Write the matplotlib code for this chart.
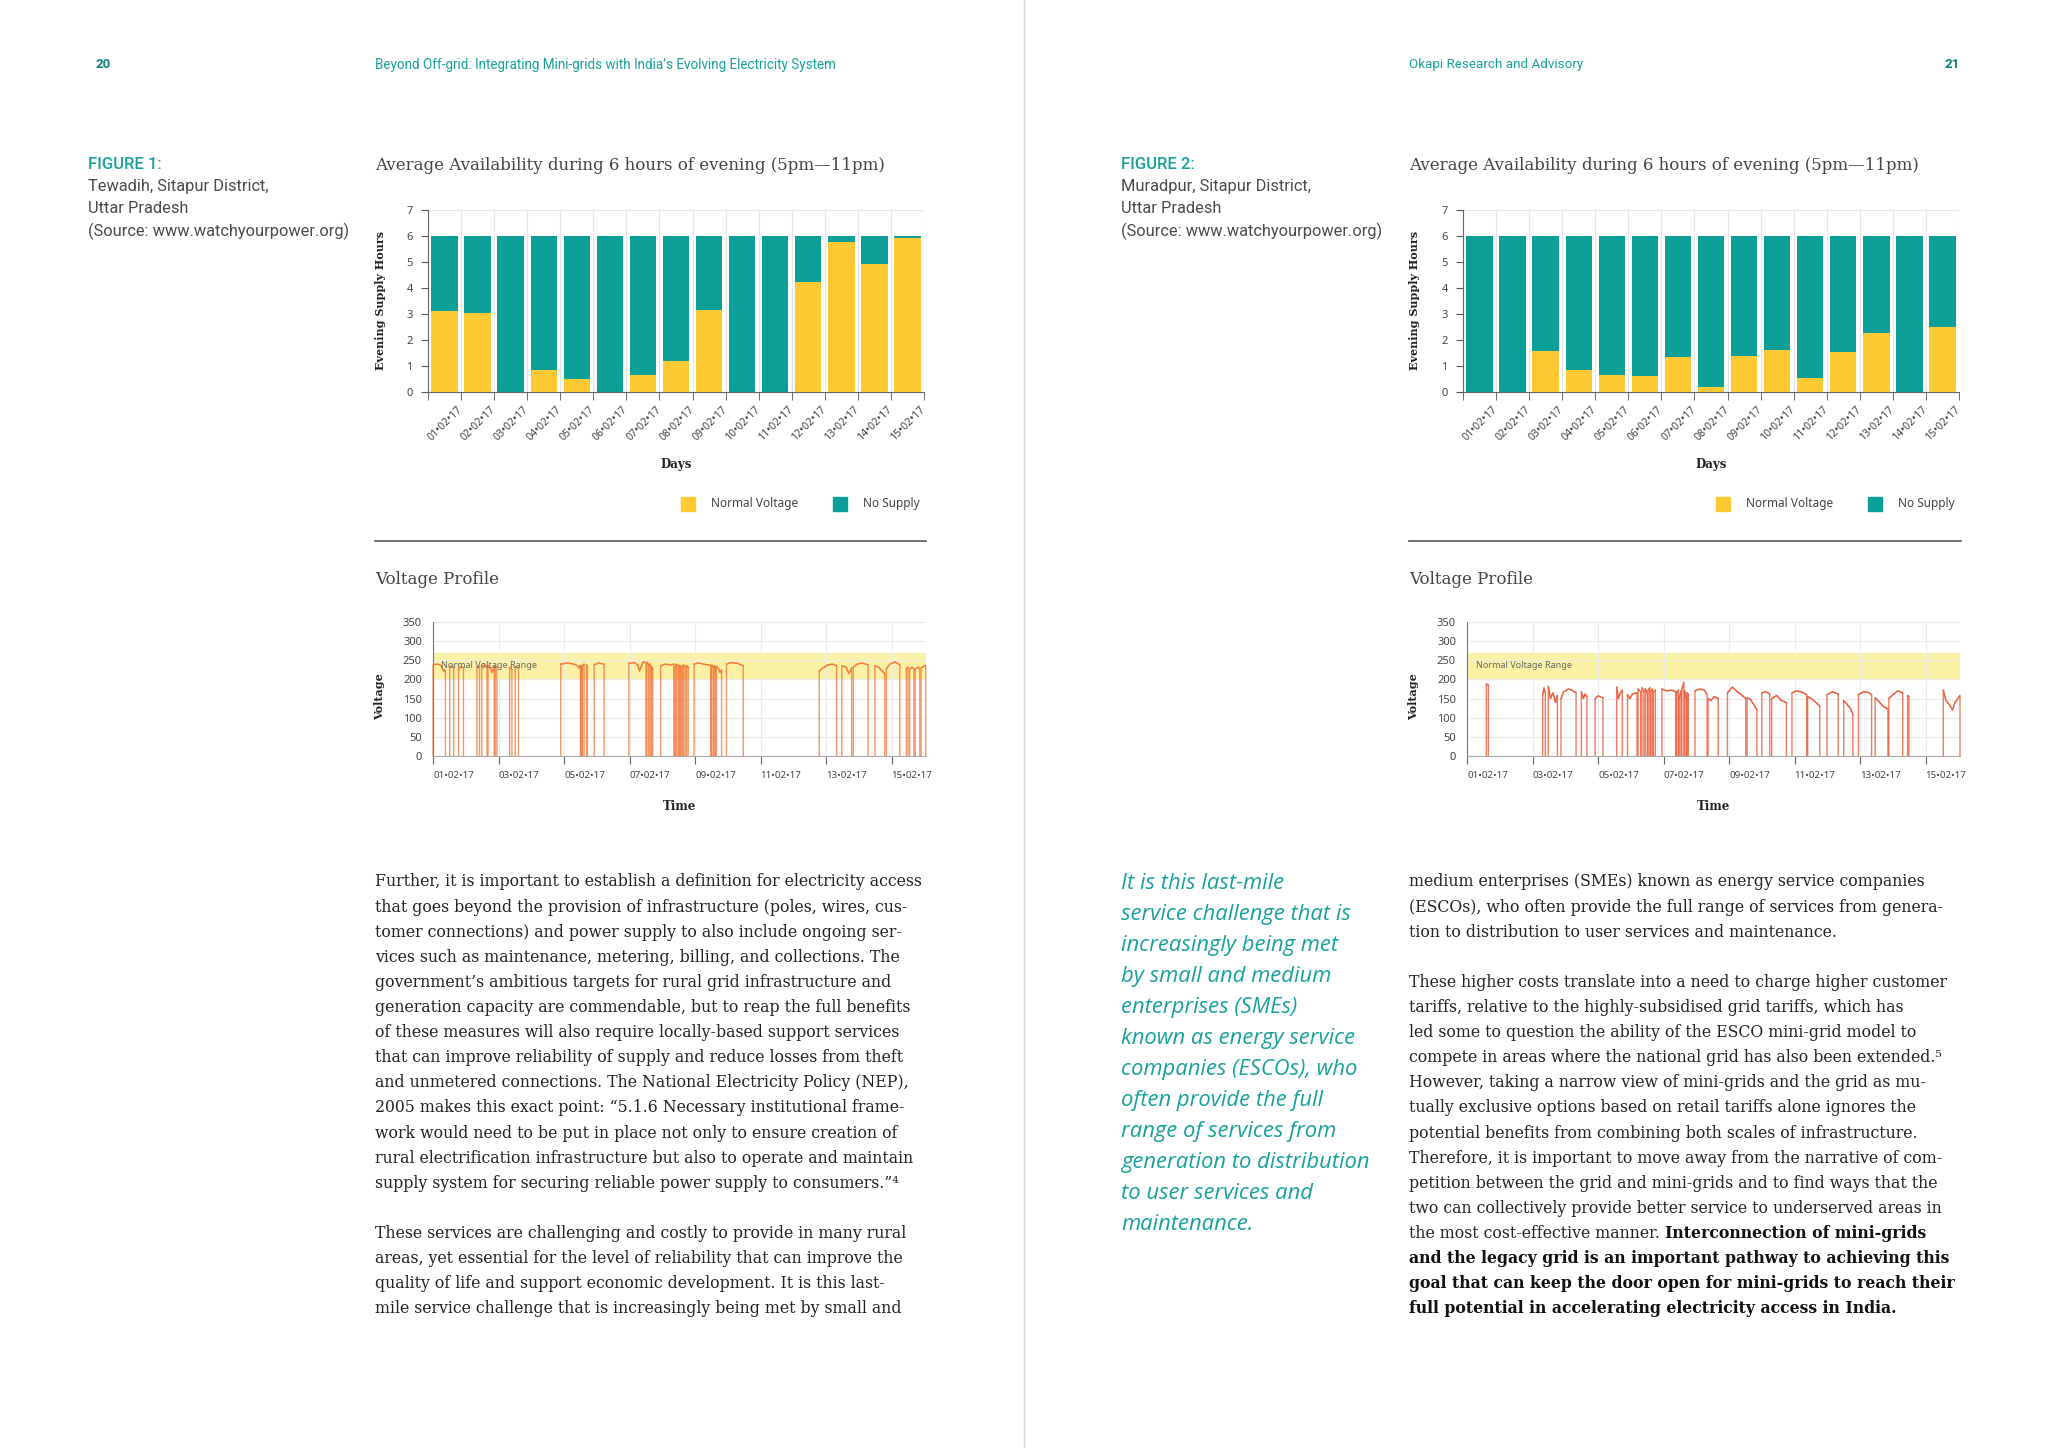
import numpy as np
import matplotlib
matplotlib.use('Agg')
from matplotlib import pyplot as plt
from matplotlib.patches import Rectangle

day_labels = ['01•02•17', '02•02•17', '03•02•17', '04•02•17', '05•02•17',
              '06•02•17', '07•02•17', '08•02•17', '09•02•17', '10•02•17',
              '11•02•17', '12•02•17', '13•02•17', '14•02•17', '15•02•17']

# evening supply hours (out of 6) at normal voltage
tewadih_normal = [3.12, 3.04, 0.0, 0.86, 0.49, 0.0, 0.67, 1.2, 3.15, 0.0,
                  0.0, 4.22, 5.77, 4.92, 5.91]
muradpur_normal = [0.0, 0.0, 1.58, 0.86, 0.67, 0.6, 1.35, 0.2, 1.37, 1.6,
                   0.55, 1.54, 2.27, 0.0, 2.51]
evening_hours = 6

# voltage profile: supply runs as (day, volt) points, 0 V between runs
tewadih_runs = [
    [(0.00, 238), (0.15, 240), (0.25, 236), (0.32, 222), (0.36, 225), (0.38, 218)],
    [(0.51, 232), (0.58, 236), (0.63, 230)],
    [(0.78, 226), (0.84, 233), (0.93, 231)],
    [(1.34, 232), (1.42, 234)],
    [(1.49, 235), (1.56, 237), (1.65, 233)],
    [(1.68, 236), (1.76, 228), (1.80, 218), (1.87, 232)],
    [(1.90, 234), (1.95, 232)],
    [(2.34, 231), (2.41, 226)],
    [(2.51, 233), (2.61, 230)],
    [(3.90, 240), (4.10, 243), (4.30, 240), (4.40, 236), (4.46, 230), (4.50, 236)],
    [(4.52, 234), (4.54, 228)],
    [(4.56, 236), (4.61, 240)],
    [(4.68, 238), (4.70, 238)],
    [(4.92, 238), (5.05, 243), (5.22, 240)],
    [(5.98, 242), (6.15, 244), (6.25, 238), (6.30, 222), (6.35, 232), (6.42, 246), (6.50, 243)],
    [(6.53, 245), (6.58, 238)],
    [(6.62, 240), (6.66, 230)],
    [(6.69, 232), (6.71, 226)],
    [(6.95, 236), (7.10, 240), (7.25, 238), (7.35, 240)],
    [(7.38, 232), (7.42, 240)],
    [(7.45, 236), (7.50, 238)],
    [(7.52, 235), (7.55, 230)],
    [(7.58, 236), (7.62, 232)],
    [(7.65, 238), (7.70, 233)],
    [(7.74, 236), (7.79, 232)],
    [(7.97, 240), (8.10, 243), (8.25, 240), (8.40, 238), (8.48, 236)],
    [(8.50, 238), (8.55, 232)],
    [(8.58, 236), (8.62, 230)],
    [(8.65, 234), (8.72, 228), (8.76, 218), (8.81, 225)],
    [(8.96, 240), (9.10, 244), (9.30, 242), (9.40, 238), (9.47, 236)],
    [(11.79, 222), (11.90, 230), (12.05, 238), (12.20, 240), (12.32, 236)],
    [(12.48, 235), (12.60, 233), (12.70, 215), (12.78, 230)],
    [(12.83, 232), (12.95, 240), (13.10, 243), (13.28, 238)],
    [(13.49, 236), (13.60, 232), (13.72, 222), (13.79, 215)],
    [(13.84, 228), (13.95, 240), (14.10, 246), (14.25, 238)],
    [(14.45, 228), (14.50, 232)],
    [(14.55, 226), (14.62, 232), (14.68, 228)],
    [(14.72, 226), (14.80, 232), (14.86, 228)],
    [(14.90, 230), (14.97, 234), (15.04, 236)],
]

muradpur_runs = [
    [(0.59, 188), (0.65, 186)],
    [(2.31, 160), (2.35, 178), (2.39, 165)],
    [(2.48, 182), (2.55, 150), (2.62, 165), (2.70, 140), (2.76, 158)],
    [(2.87, 150), (2.95, 168), (3.10, 175), (3.20, 172), (3.33, 165)],
    [(3.49, 168), (3.55, 150), (3.60, 162), (3.66, 155)],
    [(3.91, 150), (4.00, 157), (4.15, 152)],
    [(4.57, 180), (4.62, 150), (4.68, 165), (4.74, 172)],
    [(4.90, 160), (4.97, 150), (5.05, 162), (5.19, 165)],
    [(5.22, 175), (5.30, 168)],
    [(5.34, 178), (5.40, 170)],
    [(5.44, 176), (5.50, 165)],
    [(5.53, 172), (5.58, 178)],
    [(5.61, 170), (5.66, 175)],
    [(5.69, 168), (5.75, 172)],
    [(5.95, 175), (6.10, 170), (6.25, 172), (6.37, 168)],
    [(6.40, 165), (6.45, 172)],
    [(6.48, 150), (6.53, 170)],
    [(6.56, 175), (6.62, 192)],
    [(6.65, 170), (6.70, 150)],
    [(6.72, 165), (6.76, 160)],
    [(6.96, 170), (7.10, 175), (7.25, 172), (7.33, 160)],
    [(7.36, 150), (7.45, 145), (7.55, 155), (7.67, 150)],
    [(7.95, 165), (8.10, 180), (8.25, 168), (8.40, 158), (8.51, 150)],
    [(8.55, 152), (8.65, 148), (8.75, 135), (8.85, 120)],
    [(9.00, 165), (9.12, 168), (9.24, 162)],
    [(9.30, 150), (9.45, 158), (9.60, 145), (9.75, 140)],
    [(9.92, 165), (10.05, 170), (10.20, 168), (10.37, 160)],
    [(10.40, 155), (10.55, 148), (10.65, 140), (10.77, 130)],
    [(10.99, 160), (11.15, 168), (11.33, 162)],
    [(11.50, 145), (11.60, 135), (11.70, 125), (11.78, 110)],
    [(11.95, 160), (12.10, 168), (12.25, 166), (12.35, 160)],
    [(12.46, 152), (12.60, 140), (12.70, 130), (12.85, 122)],
    [(12.88, 150), (13.00, 160), (13.15, 170), (13.30, 165)],
    [(13.45, 158), (13.49, 155)],
    [(14.54, 172), (14.62, 145), (14.72, 135), (14.82, 120), (14.90, 140), (15.05, 158)],
]
normal_range = (200, 270)

left_body = [
    "Further, it is important to establish a definition for electricity access",
    "that goes beyond the provision of infrastructure (poles, wires, cus-",
    "tomer connections) and power supply to also include ongoing ser-",
    "vices such as maintenance, metering, billing, and collections. The",
    "government’s ambitious targets for rural grid infrastructure and",
    "generation capacity are commendable, but to reap the full benefits",
    "of these measures will also require locally-based support services",
    "that can improve reliability of supply and reduce losses from theft",
    "and unmetered connections. The National Electricity Policy (NEP),",
    "2005 makes this exact point: “5.1.6 Necessary institutional frame-",
    "work would need to be put in place not only to ensure creation of",
    "rural electrification infrastructure but also to operate and maintain",
    "supply system for securing reliable power supply to consumers.”⁴",
    "",
    "These services are challenging and costly to provide in many rural",
    "areas, yet essential for the level of reliability that can improve the",
    "quality of life and support economic development. It is this last-",
    "mile service challenge that is increasingly being met by small and",
]
right_body = [
    "medium enterprises (SMEs) known as energy service companies",
    "(ESCOs), who often provide the full range of services from genera-",
    "tion to distribution to user services and maintenance.",
    "",
    "These higher costs translate into a need to charge higher customer",
    "tariffs, relative to the highly-subsidised grid tariffs, which has",
    "led some to question the ability of the ESCO mini-grid model to",
    "compete in areas where the national grid has also been extended.⁵",
    "However, taking a narrow view of mini-grids and the grid as mu-",
    "tually exclusive options based on retail tariffs alone ignores the",
    "potential benefits from combining both scales of infrastructure.",
    "Therefore, it is important to move away from the narrative of com-",
    "petition between the grid and mini-grids and to find ways that the",
    "two can collectively provide better service to underserved areas in",
    "the most cost-effective manner. ",
]
right_bold = [
    "Interconnection of mini-grids",
    "and the legacy grid is an important pathway to achieving this",
    "goal that can keep the door open for mini-grids to reach their",
    "full potential in accelerating electricity access in India.",
]
pull_quote = [
    "It is this last-mile", "service challenge that is", "increasingly being met",
    "by small and medium", "enterprises (SMEs)", "known as energy service",
    "companies (ESCOs), who", "often provide the full", "range of services from",
    "generation to distribution", "to user services and", "maintenance.",
]

TEAL = '#0c9e99'
TEAL_TXT = '#17a19c'
YELLOW = '#fdca33'
GREY = '#444444'
SERIF = 'DejaVu Serif'
SANS = 'Noto Sans'

W, H = 2048, 1448
fig = plt.figure(figsize=(W / 100, H / 100), dpi=100)


def fx(x):
    return x / W


def fy(y):
    return 1 - y / H


def ptext(x, y, s, **kw):
    kw.setdefault('va', 'center_baseline')
    return fig.text(fx(x), fy(y), s, **kw)


def add_axes_px(x0, y0, x1, y1):
    return fig.add_axes([fx(x0), fy(y1), (x1 - x0) / W, (y1 - y0) / H])


def bar_chart(x0, x1, normal):
    ax = add_axes_px(x0, 210, x1, 392)
    pos = np.arange(len(day_labels))
    no_supply = [evening_hours - v for v in normal]
    ax.bar(pos, normal, width=0.8, color=YELLOW, zorder=3)
    ax.bar(pos, no_supply, bottom=normal, width=0.8, color=TEAL, zorder=3)
    ax.set_xlim(-0.5, len(day_labels) - 0.5)
    ax.set_ylim(0, 7)
    ax.set_yticks(range(8))
    # rotated day labels end just right of each bar centre
    ax.set_xticks(pos + 0.38)
    ax.set_xticklabels(day_labels, rotation=45, ha='right', rotation_mode='anchor',
                       fontsize=7.6, color=GREY, family=SANS)
    ax.set_xticks(np.arange(-0.5, len(day_labels), 1), minor=True)
    ax.tick_params(axis='x', which='major', length=0, pad=9)
    ax.tick_params(axis='x', which='minor', length=6, color='#555555')
    ax.tick_params(axis='y', length=5, color='#555555', labelsize=8, labelcolor=GREY, pad=6)
    for lab in ax.get_yticklabels():
        lab.set_family(SANS)
    ax.grid(axis='x', which='minor', color='#e6e6e6', lw=0.8, zorder=0)
    ax.axhline(7, color='#e6e6e6', lw=1, zorder=0)
    for s in ['top', 'right']:
        ax.spines[s].set_visible(False)
    for s in ['left', 'bottom']:
        ax.spines[s].set_color('#666666')
    return ax


def voltage_chart(x0, x1, runs, color, label_day):
    ax = add_axes_px(x0, 622, x1, 756)
    # each supply run drawn on its own, rising from and falling back to 0 V
    for run in runs:
        t = [run[0][0]] + [d for d, _ in run] + [run[-1][0]]
        v = [0] + [volt for _, volt in run] + [0]
        ax.plot(t, v, color=color, lw=1.0, alpha=0.7, zorder=3, clip_on=False)
        ax.plot([d for d, _ in run], [volt for _, volt in run], color=color, lw=1.1,
                alpha=0.5, zorder=3)
    ax.axhspan(normal_range[0], normal_range[1], color='#fbf1a4', zorder=1)
    ax.text(label_day, 236, 'Normal Voltage Range', fontsize=6.5, color='#666666',
            va='center', family=SANS, zorder=4)
    ax.set_xlim(0, 15.05)
    ax.set_ylim(0, 350)
    ax.set_yticks(range(0, 351, 50))
    ax.set_xticks(range(0, 15, 2))
    ax.set_xticklabels(day_labels[::2], ha='left', fontsize=7, color=GREY, family=SANS)
    ax.tick_params(axis='x', length=6, color='#666666', pad=5)
    ax.tick_params(axis='y', length=0, labelsize=8, labelcolor=GREY, pad=8)
    for lab in ax.get_yticklabels():
        lab.set_family(SANS)
    ax.grid(color='#ececec', lw=0.8, zorder=0)
    for s in ['top', 'right']:
        ax.spines[s].set_visible(False)
    ax.spines['left'].set_color('#777777')
    ax.spines['bottom'].set_color('#aaaaaa')
    ax.spines['bottom'].set_zorder(4)
    return ax


def legend(x0, x_text1, x_sq2, x_text2, y):
    for xs, col in [(x0, YELLOW), (x_sq2, TEAL)]:
        fig.add_artist(Rectangle((fx(xs), fy(y + 7)), 14 / W, 14 / H, color=col,
                                 transform=fig.transFigure))
    ptext(x_text1, y, 'Normal Voltage', fontsize=8.5, color=GREY, family=SANS, va='center')
    ptext(x_text2, y, 'No Supply', fontsize=8.5, color=GREY, family=SANS, va='center')


# page divider
fig.add_artist(plt.Line2D([fx(1024), fx(1024)], [0, 1], color='#d8d8d8', lw=1,
                          transform=fig.transFigure))

# headers
ptext(95, 63, '20', fontsize=9.5, color='#0b7f7b', weight='bold', family='Roboto')
ptext(375, 63, 'Beyond Off-grid: Integrating Mini-grids with India’s Evolving Electricity System',
      fontsize=9.75, color=TEAL_TXT, family='Roboto')
ptext(1409, 63, 'Okapi Research and Advisory', fontsize=9.7, color=TEAL_TXT, family='Roboto')
ptext(1960, 63, '21', fontsize=9.5, color='#0b7f7b', weight='bold', family='Roboto', ha='right')

# figure captions
for x0, num, place in [(88, '1', 'Tewadih'), (1121, '2', 'Muradpur')]:
    ptext(x0, 163, f'FIGURE {num}:', fontsize=12, color=TEAL_TXT, family='Roboto', weight='medium')
    ptext(x0, 185, f'{place}, Sitapur District,', fontsize=11.8, color='#4a4a4a', family='Roboto')
    ptext(x0, 207, 'Uttar Pradesh', fontsize=11.8, color='#4a4a4a', family='Roboto')
    ptext(x0, 229, '(Source: www.watchyourpower.org)', fontsize=11.8, color='#4a4a4a',
          family='Roboto')

# two figure blocks
blocks = [(375, 428, 924, 433, 926, tewadih_normal, tewadih_runs, '#f06a28', 0.24),
          (1409, 1463, 1959, 1467, 1960, muradpur_normal, muradpur_runs, '#e8441e', 0.29)]
for tx, bx0, bx1, vx0, vx1, normal, runs, vcol, lab_day in blocks:
    ptext(tx, 163, 'Average Availability during 6 hours of evening (5pm—11pm)',
          fontsize=12, color=GREY, family=SERIF)
    bar_chart(bx0, bx1, normal)
    ptext(tx + 5, 300, 'Evening Supply Hours', fontsize=8, color='#222222', family=SERIF,
          weight='bold', rotation=90, ha='center', va='center')
    ptext((bx0 + bx1) / 2, 464, 'Days', fontsize=8.5, color='#222222', family=SERIF,
          weight='bold', ha='center', va='center')
    legend(bx1 - 243, bx1 - 213, bx1 - 91, bx1 - 61, 504)
    fig.add_artist(plt.Line2D([fx(tx), fx(bx1 + 2)], [fy(541), fy(541)], color='#555555',
                              lw=1.2, transform=fig.transFigure))
    ptext(tx, 578, 'Voltage Profile', fontsize=12, color=GREY, family=SERIF)
    voltage_chart(vx0, vx1, runs, vcol, lab_day)
    ptext(tx + 5, 697, 'Voltage', fontsize=8, color='#222222', family=SERIF,
          weight='bold', rotation=90, ha='center', va='center')
    ptext((vx0 + vx1) / 2, 806, 'Time', fontsize=8.5, color='#222222', family=SERIF,
          weight='bold', ha='center', va='center')

# body text
LINE = 25.1
BODY = 11.3
for i, line in enumerate(left_body):
    ptext(375, 880 + i * LINE, line, fontsize=BODY, color='#222222', family=SERIF)
for i, line in enumerate(right_body):
    t = ptext(1409, 880 + i * LINE, line, fontsize=BODY, color='#222222', family=SERIF)
renderer = fig.canvas.get_renderer()
ext = t.get_window_extent(renderer=renderer)
for i, line in enumerate(right_bold):
    x = ext.x1 if i == 0 else 1409
    ptext(x, 880 + (len(right_body) - 1 + i) * LINE, line, fontsize=BODY, color='#111111',
          family=SERIF, weight='bold')

for i, line in enumerate(pull_quote):
    ptext(1121, 881 + i * 31, line, fontsize=15.8, color=TEAL_TXT, family='Open Sans',
          style='italic')

fig.savefig('out.png', dpi=100, facecolor='white')
